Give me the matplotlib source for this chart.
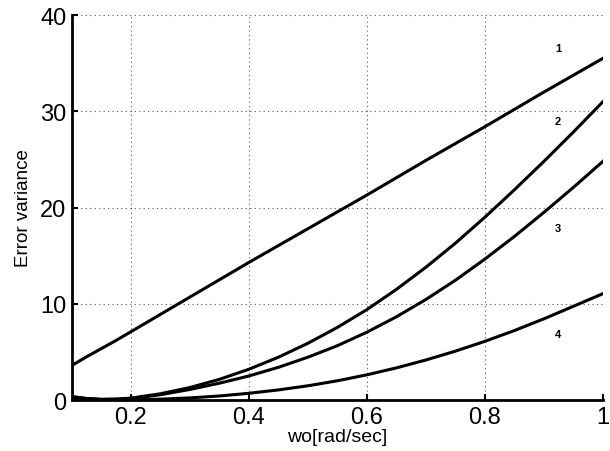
import numpy as np
import matplotlib.pyplot as plt

plt.rcParams['font.family'] = ['Liberation Sans', 'DejaVu Sans']

# frequency grid (rad/sec)
wo = [0.10, 0.125, 0.15, 0.175, 0.20, 0.25, 0.30, 0.35, 0.40, 0.45, 0.50, 0.55,
      0.60, 0.65, 0.70, 0.75, 0.80, 0.85, 0.90, 0.95, 1.00]

# error variance
curve1 = [3.6, 4.5, 5.35, 6.2, 7.1, 8.9, 10.7, 12.5, 14.3, 16.05, 17.8, 19.55,
          21.3, 23.1, 24.9, 26.65, 28.4, 30.2, 32.0, 33.75, 35.5]
curve2 = [0.35, 0.15, 0.07, 0.1, 0.2, 0.65, 1.3, 2.15, 3.2, 4.45, 5.9, 7.55,
          9.4, 11.5, 13.8, 16.3, 19.0, 21.85, 24.8, 27.85, 31.0]
curve3 = [0.35, 0.15, 0.06, 0.08, 0.15, 0.55, 1.1, 1.75, 2.5, 3.4, 4.45, 5.65,
          7.05, 8.65, 10.45, 12.45, 14.65, 17.0, 19.5, 22.1, 24.8]
curve4 = [0.3, 0.12, 0.04, 0.02, 0.02, 0.09, 0.22, 0.42, 0.7, 1.05, 1.48, 2.0,
          2.62, 3.34, 4.16, 5.08, 6.1, 7.22, 8.44, 9.74, 11.05]

labels = ['1', '2', '3', '4']
label_x = [0.924, 0.924, 0.924, 0.924]
label_y = [36.6, 29.0, 17.9, 6.9]

xticks = [0.2, 0.4, 0.6, 0.8, 1.0]
xtick_labels = ['0.2', '0.4', '0.6', '0.8', '1']
yticks = [0, 10, 20, 30, 40]

fig = plt.figure(figsize=(6.1, 4.52), dpi=100)
ax = fig.add_axes([0.118, 0.1128, 0.8705, 0.8518])

for c in [curve1, curve2, curve3, curve4]:
    ax.plot(wo, c, color='black', linewidth=2.2)

for t, lx, ly in zip(labels, label_x, label_y):
    ax.text(lx, ly, t, fontsize=8, fontweight='bold', ha='center', va='center')

ax.set_xlim(0.1, 1.0)
ax.set_ylim(0, 40)
ax.set_xticks(xticks)
ax.set_xticklabels(xtick_labels)
ax.set_yticks(yticks)
ax.tick_params(direction='in', length=4, width=1.5, labelsize=17, pad=4)

ax.grid(True, linestyle=(0, (1, 3)), color='#555555', linewidth=0.8)
ax.spines['top'].set_visible(False)
ax.spines['right'].set_visible(False)
ax.spines['left'].set_linewidth(2)
ax.spines['bottom'].set_linewidth(2)

ax.set_xlabel('wo[rad/sec]', fontsize=14, labelpad=0)
ax.set_ylabel('Error variance', fontsize=13.5, labelpad=6)

fig.savefig('out.png', dpi=100)
